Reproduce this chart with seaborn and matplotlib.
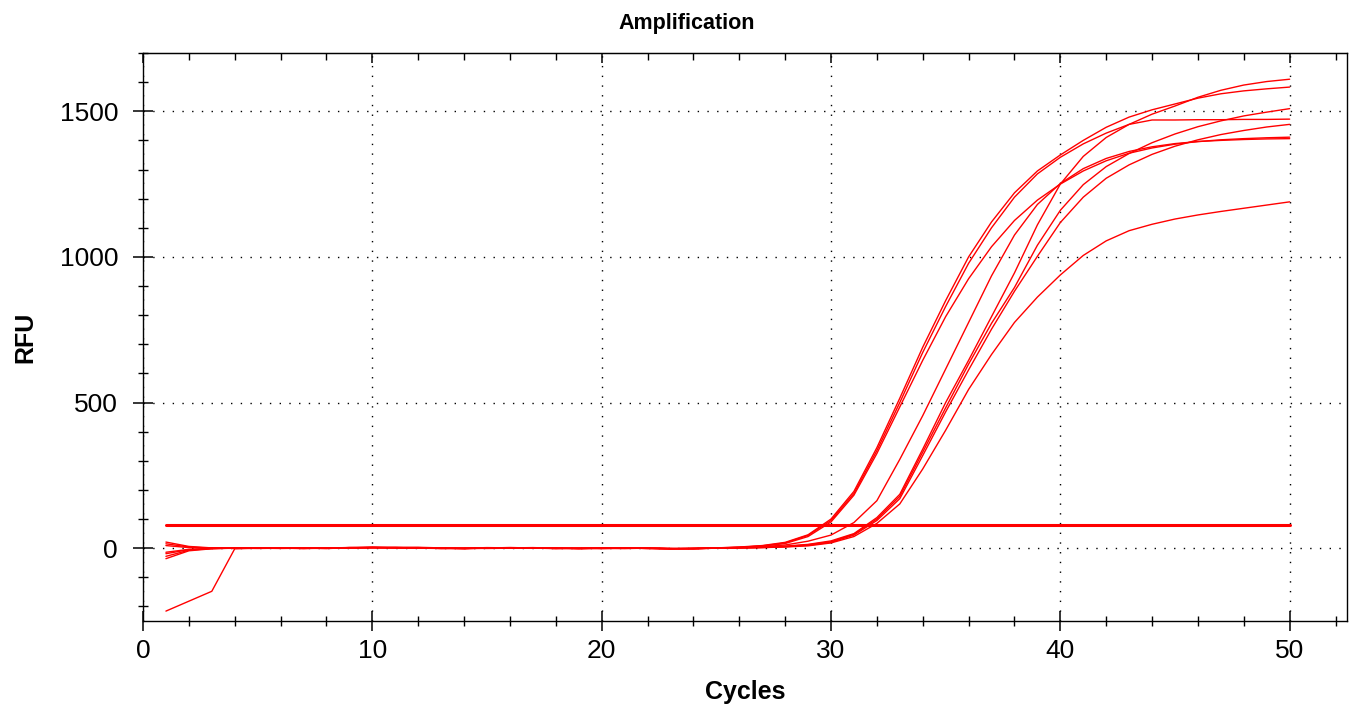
import matplotlib
matplotlib.use("Agg")
import matplotlib.pyplot as plt
from matplotlib.ticker import MultipleLocator
import pandas as pd
import seaborn as sns

# ---- data -----------------------------------------------------------------
CYCLES = list(range(1, 51))
THRESHOLD = 80

WELL_A = [21, 6, 1, 0, 1, 0, -1, 1, 2, 3, 2, 1, 0, -1, 1, 2, 1, 0, -1, 0, 1, 0, -2, -1, 1,
          4, 9, 20, 46, 100, 195, 345, 515, 690, 850, 1000, 1120, 1220, 1295, 1350,
          1400, 1445, 1480, 1505, 1525, 1545, 1560, 1570, 1577, 1583]
WELL_B = [15, 4, 0, 1, 0, 1, 0, -1, 1, 2, 3, 2, 0, -1, 0, 1, 2, 0, -1, -1, 0, 1, -1, -2, 0,
          3, 8, 18, 44, 95, 188, 335, 500, 672, 830, 978, 1100, 1205, 1285, 1342,
          1388, 1425, 1455, 1470, 1470, 1471, 1471, 1472, 1472, 1473]
WELL_C = [9, 2, 1, -1, 0, 1, 1, 0, 2, 1, 2, 3, 1, 0, -1, 0, 1, 1, -1, 0, -1, 0, -1, -2, 1,
          3, 7, 16, 40, 90, 182, 325, 485, 645, 795, 925, 1035, 1125, 1195, 1250,
          1295, 1330, 1356, 1374, 1387, 1396, 1402, 1406, 1409, 1411]
WELL_D = [-14, -4, -1, 0, -1, 0, 1, 0, 1, 3, 2, 1, -1, -2, 0, 1, 0, -1, 0, 1, 0, -1, -2, 0, 1,
          2, 5, 11, 24, 45, 88, 163, 305, 455, 615, 775, 935, 1075, 1180, 1252,
          1303, 1338, 1362, 1378, 1389, 1396, 1400, 1403, 1405, 1406]
WELL_E = [-19, -5, -1, 1, 0, -1, 0, 1, 2, 2, 1, 0, -1, 0, 2, 1, 0, -1, -1, 0, 1, -1, -2, -1, 0,
          1, 3, 7, 13, 25, 50, 105, 185, 340, 500, 645, 795, 945, 1110, 1250,
          1345, 1410, 1455, 1490, 1518, 1548, 1572, 1590, 1602, 1610]
WELL_F = [-36, -9, -2, 0, 1, 0, -1, 0, 1, 2, 1, 0, 0, -1, 1, 2, 1, -1, 0, -1, 0, 0, -2, -1, 0,
          1, 3, 6, 12, 22, 48, 100, 178, 330, 482, 632, 772, 895, 1040, 1160,
          1248, 1310, 1355, 1392, 1422, 1447, 1467, 1484, 1497, 1509]
WELL_G = [-28, -7, -1, 0, 0, 1, -1, 0, 2, 3, 1, 1, 0, -1, 0, 1, 0, 0, -2, 0, 1, -1, -1, -2, 0,
          1, 2, 5, 10, 20, 45, 95, 170, 318, 468, 612, 752, 882, 1002, 1118,
          1205, 1270, 1316, 1352, 1380, 1402, 1420, 1434, 1446, 1455]
WELL_H = [-216, -182, -148, -2, 0, 1, 0, -1, 1, 2, 2, 1, -1, 0, 1, 0, 1, -1, 0, -1, -1, 0, -2, -1, 0,
          1, 2, 4, 8, 18, 40, 85, 152, 272, 405, 545, 665, 775, 862, 938,
          1005, 1055, 1090, 1112, 1130, 1144, 1156, 1167, 1178, 1189]

WELLS = {"A": WELL_A, "B": WELL_B, "C": WELL_C, "D": WELL_D,
         "E": WELL_E, "F": WELL_F, "G": WELL_G, "H": WELL_H}

RED = "#ff0000"


def main():
    df = pd.concat(
        [pd.DataFrame({"cycle": CYCLES, "rfu": vals, "well": name}) for name, vals in WELLS.items()],
        ignore_index=True,
    )

    sns.set_style("white")
    plt.rcParams["font.family"] = ["Liberation Sans", "DejaVu Sans"]

    fig = plt.figure(figsize=(13.49, 7.11), dpi=100)
    ax = fig.add_axes([143 / 1349, 1 - 621 / 711, 1204 / 1349, 568 / 711])

    sns.lineplot(data=df, x="cycle", y="rfu", units="well", estimator=None,
                 color=RED, lw=1.0, legend=False, ax=ax)
    ax.plot([CYCLES[0], CYCLES[-1]], [THRESHOLD, THRESHOLD], color=RED, lw=2.2)

    ax.set_xlim(0, 52.5)
    ax.set_ylim(-250, 1700)
    ax.xaxis.set_major_locator(MultipleLocator(10))
    ax.xaxis.set_minor_locator(MultipleLocator(2))
    ax.yaxis.set_major_locator(MultipleLocator(500))
    ax.yaxis.set_minor_locator(MultipleLocator(100))

    ax.grid(which="major", color="black", linestyle=(0, (1, 6)), lw=1.0)
    ax.grid(which="minor", visible=False)

    for s in ax.spines.values():
        s.set_color("black")
        s.set_linewidth(1.0)

    ax.tick_params(which="both", bottom=True, left=True, top=False, right=False)
    ax.tick_params(which="major", direction="inout", length=14, width=1.1,
                   labelsize=19, color="black", labelcolor="black")
    ax.tick_params(which="minor", direction="inout", length=7, width=1.0, color="black")
    ax.tick_params(axis="x", which="both", pad=6)
    ax.tick_params(axis="y", which="both", pad=11)

    top = ax.secondary_xaxis("top")
    top.xaxis.set_major_locator(MultipleLocator(10))
    top.xaxis.set_minor_locator(MultipleLocator(2))
    top.tick_params(which="both", top=True, labeltop=False, color="black")
    top.tick_params(which="major", direction="in", length=7, width=1.1)
    top.tick_params(which="minor", direction="in", length=5, width=1.0)

    ax.set_xlabel("Cycles", fontsize=18, fontweight="bold", color="black", labelpad=12)
    ax.set_ylabel("RFU", fontsize=18, fontweight="bold", color="black", labelpad=16)
    fig.text(687 / 1349, 1 - 23 / 711, "Amplification", fontsize=15.5, fontweight="bold",
             color="black", ha="center", va="center")

    fig.savefig("out.png", dpi=100)
    plt.close(fig)


if __name__ == "__main__":
    main()
